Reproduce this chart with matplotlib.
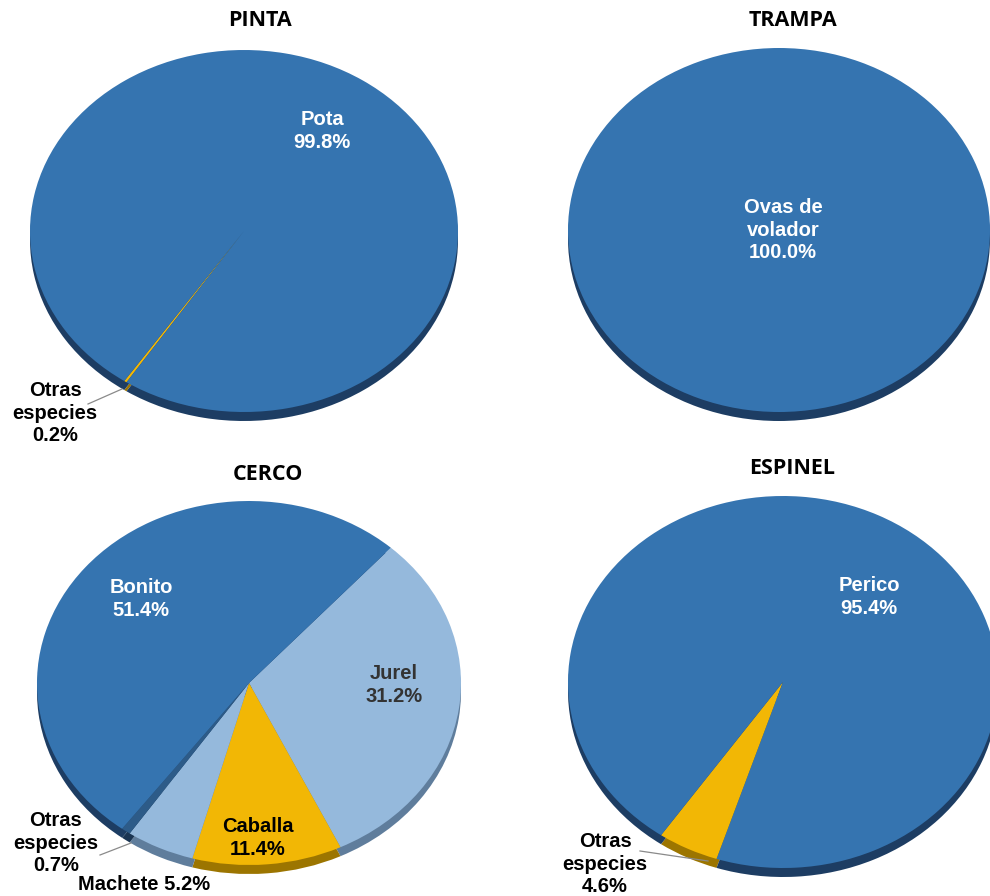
import matplotlib
matplotlib.use("Agg")
import matplotlib.pyplot as plt
from matplotlib.lines import Line2D

W, H = 990, 896

# Data (slices listed in clockwise drawing order)
pinta_labels = ['Otras especies', 'Pota']
pinta_vals = [0.2, 99.8]
trampa_labels = ['Ovas de volador']
trampa_vals = [100.0]
cerco_labels = ['Jurel', 'Caballa', 'Machete', 'Otras especies', 'Bonito']
cerco_vals = [31.2, 11.4, 5.2, 0.7, 51.4]
espinel_labels = ['Otras especies', 'Perico']
espinel_vals = [4.6, 95.4]

BLUE = '#3574b0'
LIGHT = '#95b9dc'
GOLD = '#f2b705'
DARKB = '#2d5b88'
RIM = {BLUE: '#1d3d63', LIGHT: '#5f7d9c', GOLD: '#9c7500', DARKB: '#1a3553'}

fig = plt.figure(figsize=(W / 100, H / 100), dpi=100)


def pie_axes(cx, cy, a, b):
    ax = fig.add_axes([(cx - a) / W, 1 - (cy + b) / H, 2 * a / W, 2 * b / H])
    return ax


def draw_pie(cx, cy, a, b, vals, colors, start, rim=9):
    ax = pie_axes(cx, cy, a, b)
    d = rim / b
    ax.pie(vals, colors=[RIM[c] for c in colors], startangle=start, counterclock=False,
           center=(0, -d), radius=1, wedgeprops=dict(linewidth=0, clip_on=False))
    ax.pie(vals, colors=colors, startangle=start, counterclock=False,
           center=(0, 0), radius=1, wedgeprops=dict(linewidth=0, clip_on=False))
    ax.set_aspect('auto')
    ax.set_xlim(-1, 1)
    ax.set_ylim(-1, 1)
    ax.axis('off')
    return ax


def label(px, py, s, color='black'):
    fig.text(px / W, 1 - py / H, s, ha='center', va='center', color=color,
             fontsize=14.5, fontweight='bold', family='Liberation Sans', linespacing=1.22)


def title(px, py, s):
    fig.text(px / W, 1 - py / H, s, ha='center', va='center', fontsize=15.5,
             fontweight='bold', family='Open Sans')


def leader(x0, y0, x1, y1):
    fig.add_artist(Line2D([x0 / W, x1 / W], [1 - y0 / H, 1 - y1 / H],
                          color='#8a8a8a', lw=0.9))


# PINTA
draw_pie(244, 231, 214, 181, pinta_vals, [GOLD, BLUE], -123.3)
title(260, 21, 'PINTA')
label(322, 131, 'Pota\n99.8%', 'white')
label(55, 413, 'Otras\nespecies\n0.2%')
leader(122, 389, 88, 404)

# TRAMPA
draw_pie(779, 230, 211, 182, trampa_vals, [BLUE], 90)
title(793, 21, 'TRAMPA')
label(783, 230, 'Ovas de\nvolador\n100.0%', 'white')

# CERCO
draw_pie(249, 683, 212, 182, cerco_vals, [LIGHT, GOLD, LIGHT, DARKB, BLUE], 48)
title(268, 474, 'CERCO')
label(141, 599, 'Bonito\n51.4%', 'white')
label(394, 685, 'Jurel\n31.2%', '#333333')
label(258, 838, 'Caballa\n11.4%')
label(56, 843, 'Otras\nespecies\n0.7%')
label(144, 884, 'Machete 5.2%')
leader(131, 843, 100, 855)

# ESPINEL
draw_pie(783, 682, 215, 186, espinel_vals, [GOLD, BLUE], -108)
title(792, 468, 'ESPINEL')
label(869, 597, 'Perico\n95.4%', 'white')
label(605, 864, 'Otras\nespecies\n4.6%')
leader(708, 861, 640, 851)

fig.savefig('out.png', dpi=100)
